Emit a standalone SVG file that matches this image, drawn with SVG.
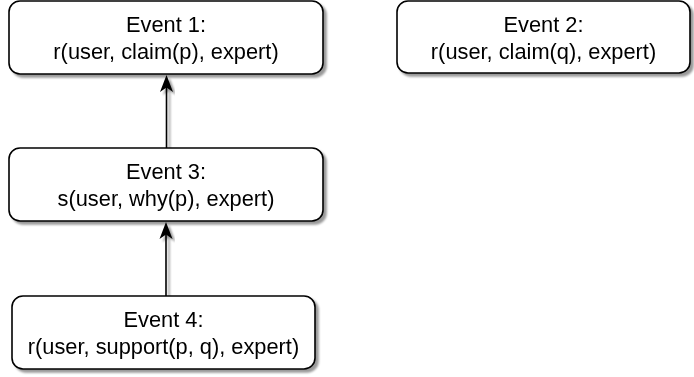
<svg xmlns="http://www.w3.org/2000/svg" width="694" height="377" viewBox="0 0 694 377">
<defs>
<style>
.box{fill:#fff;stroke:#000;stroke-width:1.6}
.t{font-family:"Liberation Sans",Arial,sans-serif;font-size:21.8px;fill:#000;text-anchor:middle}
.e{stroke:#000;stroke-width:1.6;fill:none}
</style>
<filter id="sh" x="-5%" y="-5%" width="115%" height="130%">
<feGaussianBlur in="SourceAlpha" stdDeviation="0.8" result="b"/>
<feOffset in="b" dx="3" dy="3" result="o"/>
<feFlood flood-color="#000" flood-opacity="0.4"/>
<feComposite in2="o" operator="in" result="s"/>
<feMerge><feMergeNode in="s"/><feMergeNode in="SourceGraphic"/></feMerge>
</filter>
</defs>
<g id="connectors" filter="url(#sh)">
<path class="e" d="M166.5,148 L166.5,86"/>
<path d="M166.5,75 L173,92 L166.5,87.5 L160,92 Z" fill="#000"/>
<path class="e" d="M166,296 L166,233"/>
<path d="M166,222 L172.5,239 L166,234.5 L159.5,239 Z" fill="#000"/>
</g>
<g id="event1" filter="url(#sh)">
<rect class="box" x="9" y="1" width="314" height="73" rx="11"/>
<text class="t" x="166" y="32">Event 1:</text>
<text class="t" x="166" y="58.5">r(user, claim(p), expert)</text>
</g>
<g id="event2" filter="url(#sh)">
<rect class="box" x="397" y="1" width="293" height="72" rx="11"/>
<text class="t" x="543.5" y="32">Event 2:</text>
<text class="t" x="543.5" y="58.5">r(user, claim(q), expert)</text>
</g>
<g id="event3" filter="url(#sh)">
<rect class="box" x="9" y="148" width="314" height="73" rx="11"/>
<text class="t" x="166" y="179">Event 3:</text>
<text class="t" x="166" y="205.5">s(user, why(p), expert)</text>
</g>
<g id="event4" filter="url(#sh)">
<rect class="box" x="12" y="296" width="303" height="73" rx="11"/>
<text class="t" x="163.5" y="327">Event 4:</text>
<text class="t" x="163.5" y="353.5">r(user, support(p, q), expert)</text>
</g>
</svg>
